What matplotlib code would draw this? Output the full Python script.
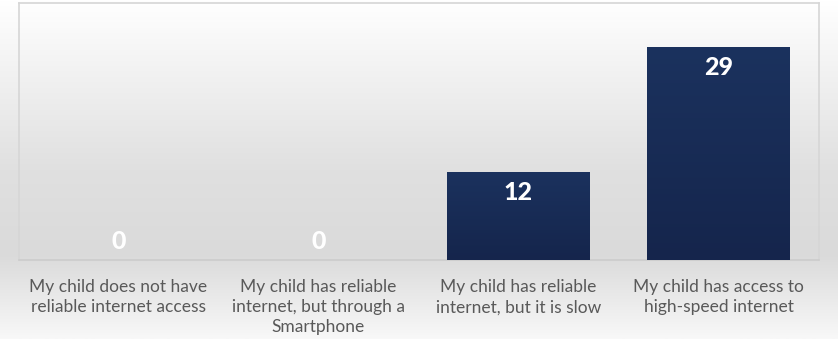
import numpy as np
import matplotlib.pyplot as plt
from matplotlib.colors import LinearSegmentedColormap

categories = [
    "My child does not have\nreliable internet access",
    "My child has reliable\ninternet, but through a\nSmartphone",
    "My child has reliable\ninternet, but it is slow",
    "My child has access to\nhigh-speed internet",
]
counts = [0, 0, 12, 29]

plt.rcParams['font.family'] = ['Lato', 'DejaVu Sans']

fig = plt.figure(figsize=(8.38, 3.39), dpi=100)

# background: white at the top fading to grey near the baseline, lighter again below
bg = fig.add_axes([0, 0, 1, 1], zorder=0)
bg.axis('off')
stops = [(0.0, '#f8f8f8'), (0.25, '#dadada'), (0.5, '#e0e0e0'), (1.0, '#ffffff')]
bg_cmap = LinearSegmentedColormap.from_list('bg', stops)
grad = np.linspace(0, 1, 256).reshape(-1, 1)
bg.imshow(grad, aspect='auto', cmap=bg_cmap, extent=[0, 1, 0, 1], origin='lower')
bg.set_xlim(0, 1)
bg.set_ylim(0, 1)

ax = fig.add_axes([18.5 / 838, 1 - 260 / 339, 800 / 838, 257 / 339], zorder=1)
ax.patch.set_alpha(0)

x = np.arange(len(categories))
bars = ax.bar(x, counts, width=0.715, color='#182b55', zorder=2)

# vertical gradient inside each bar
bar_cmap = LinearSegmentedColormap.from_list('bar', ['#15254c', '#1b325e'])
for b in bars:
    h = b.get_height()
    if h <= 0:
        continue
    x0 = b.get_x()
    img = ax.imshow(grad, aspect='auto', cmap=bar_cmap, origin='lower',
                    extent=[x0, x0 + b.get_width(), 0, h], zorder=3)
    img.set_clip_path(b)

for xi, v in zip(x, counts):
    dy = -14.5 if v > 0 else 13.5
    ax.annotate(str(v), (xi, v), xytext=(0, dy), textcoords='offset points',
                ha='center', va='center', color='white', fontsize=18,
                fontweight='black', zorder=4)

ax.set_xlim(-0.5, len(categories) - 0.5)
ax.set_ylim(0, 35)
ax.set_yticks([])
ax.set_xticks(x)
ax.set_xticklabels(categories, fontsize=12.5, color='#595959', linespacing=1.3)
ax.tick_params(axis='x', length=0, pad=14)

for side in ['top', 'left', 'right']:
    ax.spines[side].set_color('#d6d6d6')
    ax.spines[side].set_linewidth(1.2)
ax.spines['bottom'].set_color('#cccccc')
ax.spines['bottom'].set_linewidth(1.2)

fig.savefig('out.png', dpi=100)
